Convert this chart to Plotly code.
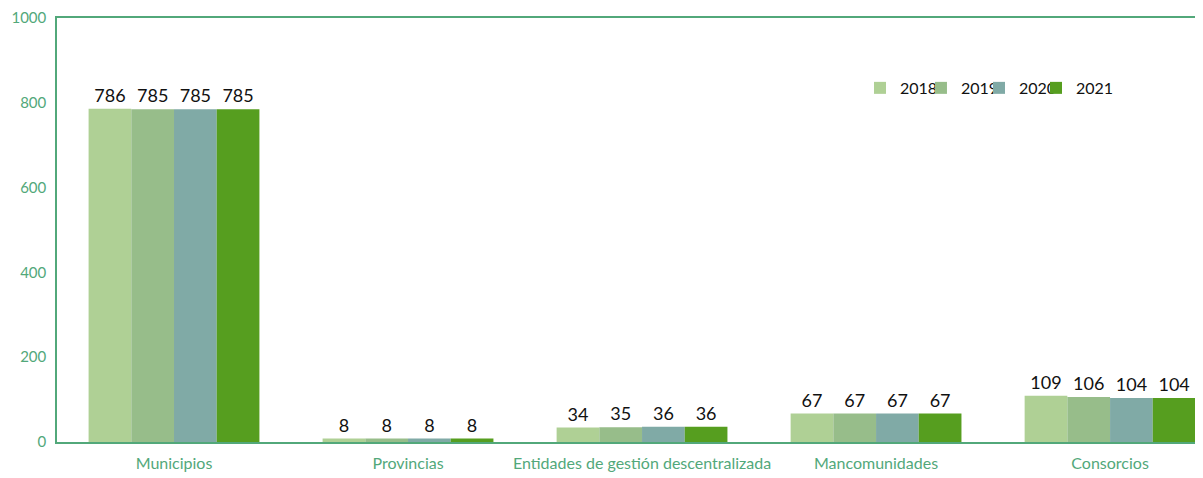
import plotly.graph_objects as go

categories = ["Municipios", "Provincias", "Entidades de gestión descentralizada", "Mancomunidades", "Consorcios"]
years = ["2018", "2019", "2020", "2021"]
v2018 = [786, 8, 34, 67, 109]
v2019 = [785, 8, 35, 67, 106]
v2020 = [785, 8, 36, 67, 104]
v2021 = [785, 8, 36, 67, 104]
series = [v2018, v2019, v2020, v2021]
colors = ["#afd095", "#97bd8a", "#80aaa6", "#569e1f"]

axis_green = "#52a87a"
font_family = "Lato, 'Open Sans', sans-serif"

legend_names = ["legend", "legend2", "legend3", "legend4"]
legend_x = [0.7056, 0.7592, 0.8102, 0.8603]

fig = go.Figure()
for y, vals, c, lg in zip(years, series, colors, legend_names):
    fig.add_trace(go.Bar(
        x=categories, y=vals, name=y, marker_color=c, marker_line_width=0,
        text=[str(v) for v in vals], textposition="outside",
        textfont=dict(color="#111111", size=18, family=font_family),
        cliponaxis=False, legend=lg,
    ))

layout_legends = {}
for lg, lx in zip(legend_names, legend_x):
    layout_legends[lg] = dict(
        orientation="h", x=lx, y=0.835, xanchor="left", yanchor="middle",
        font=dict(size=16, color="#111111", family=font_family),
        itemwidth=30, bgcolor="rgba(0,0,0,0)", borderwidth=0,
    )

fig.update_layout(
    width=1187, height=470,
    margin=dict(l=49, r=0, t=10, b=36),
    barmode="group", bargap=0.27, bargroupgap=0,
    plot_bgcolor="white", paper_bgcolor="white",
    font=dict(family=font_family, size=16, color=axis_green),
    showlegend=True,
    **layout_legends,
)
fig.update_xaxes(
    range=[-0.5, 4.363], showline=True, linecolor=axis_green, linewidth=1.5, mirror=True,
    ticks="", tickfont=dict(size=16, color=axis_green), showgrid=False,
    automargin=False, ticklabelstandoff=6, ticklabeloverflow="allow",
)
fig.update_yaxes(
    range=[0, 1000], dtick=200, showline=True, linecolor=axis_green, linewidth=1.5,
    showgrid=False, zeroline=False, ticks="", ticklabelstandoff=6,
    tickfont=dict(size=15, color=axis_green), automargin=False, ticklabeloverflow="allow",
)
fig.write_html("out.html")
